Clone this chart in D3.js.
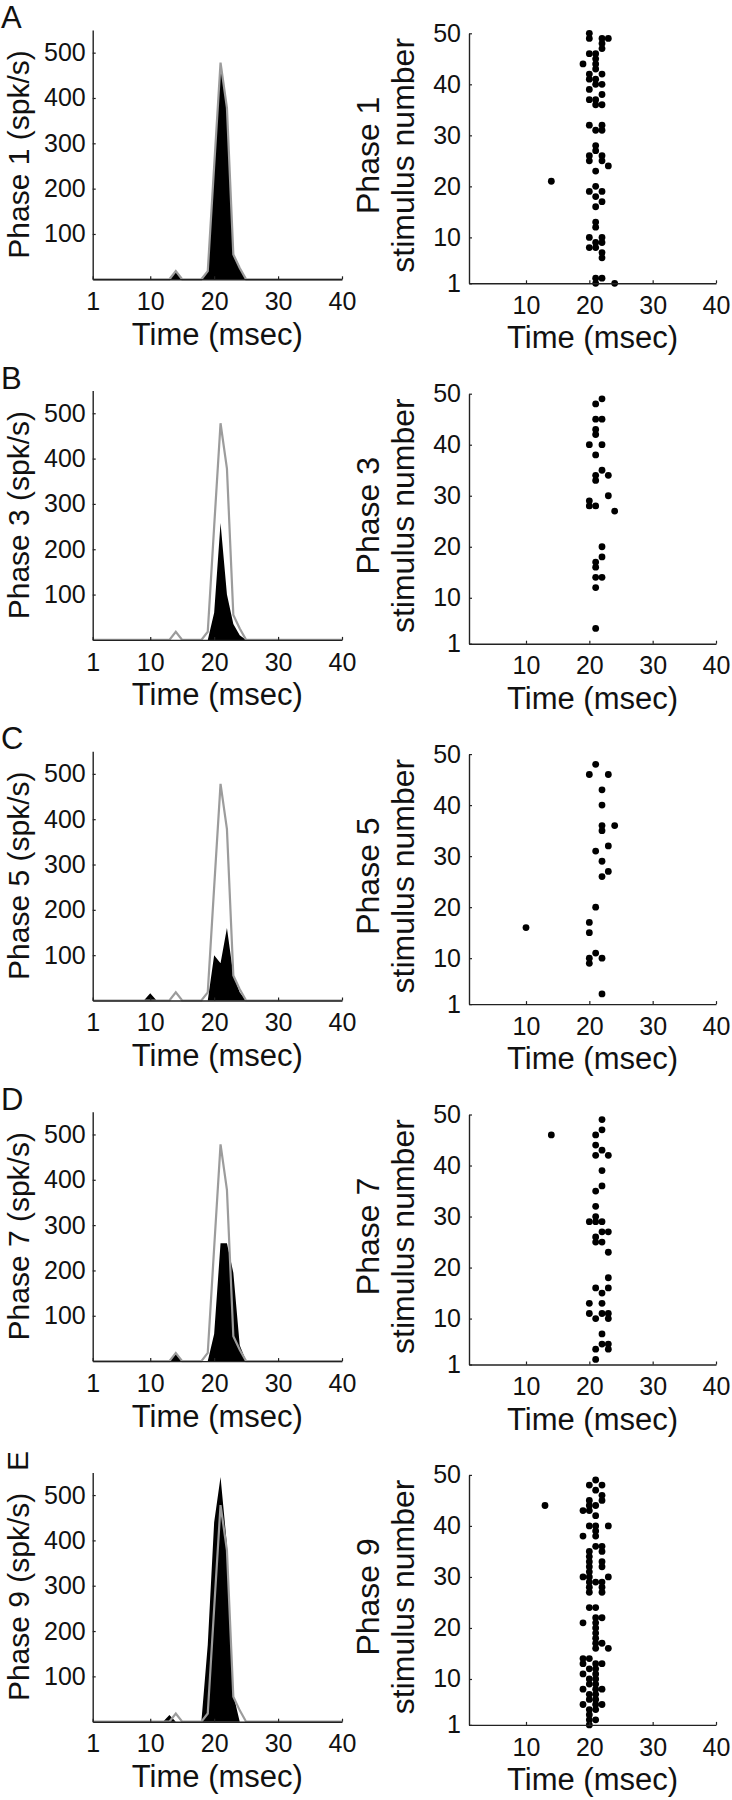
<!DOCTYPE html>
<html><head><meta charset="utf-8">
<script src="https://cdn.jsdelivr.net/npm/d3@7"></script>
<style>
body{margin:0;background:#fff}
text{font-family:"Liberation Sans",Arial,Helvetica,sans-serif;fill:#111}
</style>
</head><body>
<svg id="chart" width="732" height="1800"></svg>
<script>
// ---------------- DATA ----------------
const panelLetters = ["A","B","C","D","E"];
const phaseNames = ["Phase 1","Phase 3","Phase 5","Phase 7","Phase 9"];
const timeTicksLeft = [1,10,20,30,40];
const timeTicksRight = [10,20,30,40];
const rateTicks = [100,200,300,400,500];
const stimTicks = [1,10,20,30,40,50];
const timeLabel = "Time (msec)";
const rateUnit = "(spk/s)";
const stimLabel = "stimulus number";

// PSTH bins (ms)
const timeBins = [1,2,3,4,5,6,7,8,9,10,11,12,13,14,15,16,17,18,19,20,21,22,23,24,25,26,27,28,29,30,31,32,33,34,35,36,37,38,39,40];
// control (phase 1) PSTH – grey outline in every panel
const controlRate = [0,0,0,0,0,0,0,0,0,0,0,0,0,18,0,0,0,0,18,250,478,378,55,25,0,0,0,0,0,0,0,0,0,0,0,0,0,0,0,0];
// filled PSTHs per phase
const rateP1 = [0,0,0,0,0,0,0,0,0,0,0,0,0,18,0,0,0,0,18,250,478,378,55,25,0,0,0,0,0,0,0,0,0,0,0,0,0,0,0,0];
const rateP3 = [0,0,0,0,0,0,0,0,0,0,0,0,0,0,0,0,0,0,0,60,258,100,35,10,0,0,0,0,0,0,0,0,0,0,0,0,0,0,0,0];
const rateP5 = [0,0,0,0,0,0,0,0,0,16,0,0,0,0,0,0,0,0,0,100,82,160,57,18,0,0,0,0,0,0,0,0,0,0,0,0,0,0,0,0];
const rateP7 = [0,0,0,0,0,0,0,0,0,0,0,0,0,15,0,0,0,0,0,60,260,260,195,35,0,0,0,0,0,0,0,0,0,0,0,0,0,0,0,0];
const rateP9 = [0,0,0,0,0,0,0,0,0,0,0,0,15,0,0,0,0,0,170,440,540,390,60,0,0,0,0,0,0,0,0,0,0,0,0,0,0,0,0,0];

// rasters: [time (ms), stimulus number]
const rasterP1 = [[20,50],[20,49],[22,49],[23,49],[22,48],[22,47],[20,46],[21,46],[21,45],[19,44],[21,44],[21,43],[20,42],[22,42],[20,41],[21,41],[21,40],[22,40],[20,39],[22,38],[20,37],[21,37],[21,36],[22,36],[20,32],[22,32],[21,31],[22,31],[21,28],[21,27],[20,26],[22,26],[20,25],[22,25],[23,24],[21,23],[14,21],[21,20],[20,19],[22,19],[21,18],[22,17],[21,16],[21,13],[21,12],[20,10],[22,10],[21,9],[22,9],[20,8],[21,8],[22,7],[22,6],[21,2],[22,2],[21,1],[24,1]];
const rasterP3 = [[22,49],[21,48],[21,45],[22,45],[21,43],[21,42],[20,40],[22,40],[21,38],[22,35],[21,34],[23,34],[21,33],[23,30],[20,29],[20,28],[21,28],[24,27],[22,20],[22,18],[21,17],[21,16],[21,14],[22,14],[21,12],[21,4]];
const rasterP5 = [[21,48],[20,46],[23,46],[22,43],[22,40],[22,36],[24,36],[22,35],[23,32],[21,31],[22,29],[23,27],[22,26],[21,20],[20,17],[10,16],[20,15],[21,11],[20,10],[22,10],[20,9],[22,3]];
const rasterP7 = [[22,49],[22,47],[14,46],[21,46],[21,44],[22,43],[21,42],[23,42],[22,39],[22,36],[21,35],[21,32],[21,30],[20,29],[21,29],[22,29],[22,27],[23,27],[21,26],[21,25],[22,25],[23,23],[23,18],[21,16],[23,16],[22,15],[20,13],[22,13],[20,11],[22,11],[23,11],[21,10],[23,10],[22,7],[22,5],[23,5],[21,4],[23,4],[21,2]];
const rasterP9 = [[21,49],[20,48],[22,48],[21,47],[22,46],[20,45],[22,45],[13,44],[20,44],[21,44],[19,43],[20,43],[21,42],[20,40],[21,40],[23,40],[21,39],[19,38],[21,38],[21,36],[22,36],[20,35],[22,35],[20,34],[20,33],[22,33],[20,32],[22,32],[20,31],[19,30],[20,30],[23,30],[20,29],[21,29],[22,29],[20,28],[22,28],[20,27],[22,27],[20,24],[21,24],[21,22],[22,22],[19,21],[21,21],[21,20],[21,19],[21,18],[21,17],[22,17],[21,16],[23,16],[19,14],[20,14],[19,13],[21,13],[22,13],[20,12],[21,12],[19,11],[21,11],[20,10],[21,10],[20,9],[21,9],[19,8],[21,8],[22,8],[20,7],[21,7],[20,6],[21,6],[19,5],[21,5],[22,5],[20,4],[21,4],[20,3],[20,2],[21,2],[20,1]];

const rates = [rateP1, rateP3, rateP5, rateP7, rateP9];
const rasters = [rasterP1, rasterP3, rasterP5, rasterP7, rasterP9];

// ---------------- LAYOUT ----------------
const svg = d3.select("#chart");
const TICK_FS = 25, LABEL_FS = 31;
const AXIS_COLOR = "#222";
const GREY = "#9c9c9c";

function styleAxis(g){
  g.attr("font-family", null).attr("font-size", null);
  g.select(".domain").attr("stroke", AXIS_COLOR).attr("stroke-width", 1.4);
  g.selectAll(".tick line").attr("stroke", AXIS_COLOR).attr("stroke-width", 1.2);
  g.selectAll(".tick text").style("font-size", TICK_FS + "px").attr("fill", "#111");
}

for (let i = 0; i < 5; i++) {
  // ---------- left PSTH panel ----------
  const lBase = 279.3 + i * 360.6;
  const lTop = lBase - 249.3;
  const xL = d3.scaleLinear().domain([1, 40]).range([92.7, 342]);
  const yL = d3.scaleLinear().domain([0, 550]).range([lBase, lTop]);

  const pts = timeBins.map((t, k) => ({t, v: rates[i][k], c: controlRate[k]}));
  const gL = svg.append("g");
  gL.append("path")
    .datum(pts)
    .attr("fill", "#000")
    .attr("d", d3.area().x(d => xL(d.t)).y0(yL(0)).y1(d => yL(d.v)));
  gL.append("path")
    .datum(pts)
    .attr("fill", "none")
    .attr("stroke", GREY)
    .attr("stroke-width", 2.2)
    .attr("d", d3.line().x(d => xL(d.t)).y(d => yL(d.c)));

  gL.append("g").attr("transform", `translate(0,${lBase})`)
    .call(d3.axisBottom(xL).tickValues(timeTicksLeft).tickSizeInner(-3).tickSizeOuter(0).tickPadding(13))
    .call(styleAxis);
  gL.append("g").attr("transform", `translate(92.7,0)`)
    .call(d3.axisLeft(yL).tickValues(rateTicks).tickSizeInner(-3).tickSizeOuter(0).tickPadding(7))
    .call(styleAxis);

  // y label
  gL.append("text")
    .attr("transform", `translate(28.5,${lTop + 124.5}) rotate(-90)`)
    .attr("text-anchor", "middle")
    .style("font-size", "30px")
    .text(phaseNames[i] + " " + rateUnit);
  // x label
  gL.append("text")
    .attr("x", (xL(1) + xL(40)) / 2).attr("y", lBase + 65.5)
    .attr("text-anchor", "middle")
    .style("font-size", LABEL_FS + "px")
    .text(timeLabel);
  // panel letter
  if (panelLetters[i] === "E") {
    gL.append("text")
      .attr("transform", `translate(28,${lTop - 11.5}) rotate(-90)`)
      .attr("text-anchor", "middle")
      .style("font-size", "30px")
      .text(panelLetters[i]);
  } else {
    gL.append("text")
      .attr("x", 1).attr("y", lTop - 2)
      .style("font-size", LABEL_FS + "px")
      .text(panelLetters[i]);
  }

  // ---------- right raster panel ----------
  const rBase = 283.3 + i * 360.4;
  const rTop = rBase - 250;
  const xR = d3.scaleLinear().domain([1, 40]).range([469, 716]);
  const yR = d3.scaleLinear().domain([1, 50]).range([rBase, rTop]);
  const gR = svg.append("g");
  gR.selectAll("circle").data(rasters[i]).join("circle")
    .attr("cx", d => xR(d[0])).attr("cy", d => yR(d[1]))
    .attr("r", 3.4).attr("fill", "#000");

  gR.append("g").attr("transform", `translate(0,${rBase})`)
    .call(d3.axisBottom(xR).tickValues(timeTicksRight).tickSizeInner(-3).tickSizeOuter(0).tickPadding(13))
    .call(styleAxis);
  gR.append("g").attr("transform", `translate(469,0)`)
    .call(d3.axisLeft(yR).tickValues(stimTicks).tickSizeInner(-3).tickSizeOuter(0).tickPadding(8))
    .call(styleAxis);

  const cy = rTop + 122;
  gR.append("text")
    .attr("transform", `translate(379,${cy}) rotate(-90)`)
    .attr("text-anchor", "middle")
    .style("font-size", "32px")
    .text(phaseNames[i]);
  gR.append("text")
    .attr("transform", `translate(414,${cy}) rotate(-90)`)
    .attr("text-anchor", "middle")
    .style("font-size", "32px")
    .text(stimLabel);
  gR.append("text")
    .attr("x", (xR(1) + xR(40)) / 2).attr("y", rBase + 65)
    .attr("text-anchor", "middle")
    .style("font-size", LABEL_FS + "px")
    .text(timeLabel);
}
</script>
</body></html>
